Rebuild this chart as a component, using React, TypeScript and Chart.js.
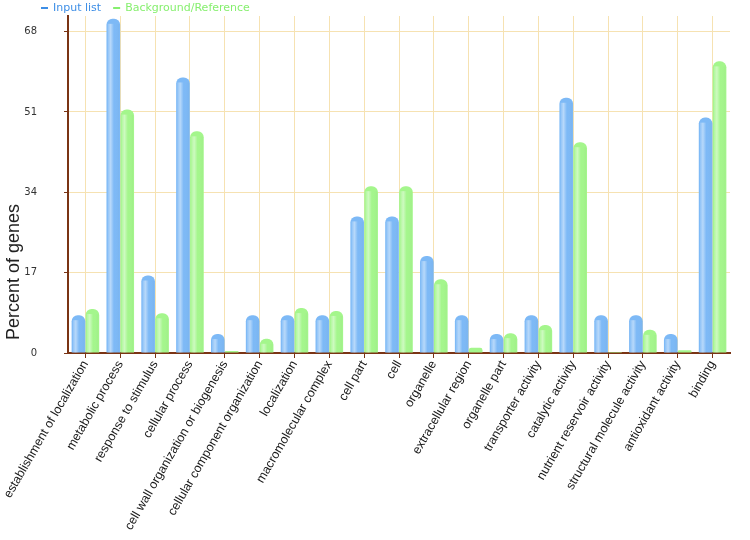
import React, { useEffect, useRef } from "react";
import { Chart, registerables } from "chart.js";

Chart.register(...registerables);

const categories = [
  "establishment of localization",
  "metabolic process",
  "response to stimulus",
  "cellular process",
  "cell wall organization or biogenesis",
  "cellular component organization",
  "localization",
  "macromolecular complex",
  "cell part",
  "cell",
  "organelle",
  "extracellular region",
  "organelle part",
  "transporter activity",
  "catalytic activity",
  "nutrient reservoir activity",
  "structural molecule activity",
  "antioxidant activity",
  "binding",
];

const inputList = [8.0, 70.7, 16.4, 58.3, 4.0, 8.0, 8.0, 8.0, 28.9, 28.9, 20.5, 8.0, 4.0, 8.0, 54.0, 8.0, 8.0, 4.0, 49.8];
const background = [9.3, 51.5, 8.4, 46.9, 0.4, 3.0, 9.5, 8.9, 35.3, 35.3, 15.6, 1.1, 4.2, 5.9, 44.6, 0.2, 4.9, 0.6, 61.7];

const yTicks = [0, 17, 34, 51, 68];
const yMax = 71.3;
const yTitle = "Percent of genes";

const legendItems = [
  { label: "Input list", color: "#3d8ee6" },
  { label: "Background/Reference", color: "#86ef6e" },
];

const BLUE = "#7db9f6";
const GREEN = "#a4f68c";
const AXIS = "#7a3414";
const GRID = "#f6e2b2";

const legendPlugin = {
  id: "topLegend",
  afterDraw(chart: any) {
    const ctx = chart.ctx;
    ctx.save();
    ctx.font = "11px 'DejaVu Sans'";
    ctx.textBaseline = "middle";
    let x = 41;
    const y = 8;
    for (const item of legendItems) {
      ctx.fillStyle = item.color;
      ctx.fillRect(x, y - 1, 7, 2);
      x += 12;
      ctx.fillText(item.label, x, y);
      x += ctx.measureText(item.label).width + 12;
    }
    // y axis title
    ctx.translate(14, 272);
    ctx.rotate(-Math.PI / 2);
    ctx.font = "18px 'Liberation Sans', Arial";
    ctx.fillStyle = "#222";
    ctx.textAlign = "center";
    ctx.fillText(yTitle, 0, 0);
    ctx.restore();
  },
};

const shinePlugin = {
  id: "barShine",
  afterDatasetsDraw(chart: any) {
    const ctx = chart.ctx;
    ctx.save();
    chart.data.datasets.forEach((_: any, di: number) => {
      const meta = chart.getDatasetMeta(di);
      meta.data.forEach((bar: any) => {
        const { x, y, base, width } = bar.getProps(["x", "y", "base", "width"], true);
        const left = x - width / 2;
        const g = ctx.createLinearGradient(left, 0, left + width, 0);
        g.addColorStop(0, "rgba(255,255,255,0.0)");
        g.addColorStop(0.3, "rgba(255,255,255,0.45)");
        g.addColorStop(0.55, "rgba(255,255,255,0.0)");
        g.addColorStop(1, "rgba(0,0,0,0.04)");
        ctx.fillStyle = g;
        const top = Math.min(y + 5, base);
        ctx.fillRect(left + 1, top, width - 2, base - top);
      });
    });
    ctx.restore();
  },
};

export default function App() {
  const ref = useRef<HTMLCanvasElement | null>(null);

  useEffect(() => {
    if (!ref.current) return;
    const chart = new Chart(ref.current, {
      type: "bar",
      data: {
        labels: categories,
        datasets: [
          {
            label: "Input list",
            data: inputList,
            backgroundColor: BLUE,
            borderRadius: { topLeft: 6, topRight: 6, bottomLeft: 0, bottomRight: 0 },
            borderSkipped: "bottom",
            categoryPercentage: 0.8,
            barPercentage: 0.98,
          },
          {
            label: "Background/Reference",
            data: background,
            backgroundColor: GREEN,
            borderRadius: { topLeft: 6, topRight: 6, bottomLeft: 0, bottomRight: 0 },
            borderSkipped: "bottom",
            categoryPercentage: 0.8,
            barPercentage: 0.98,
          },
        ],
      },
      options: {
        responsive: false,
        animation: false,
        layout: { padding: { top: 16, right: 20, left: 0, bottom: 0 } },
        plugins: {
          legend: { display: false },
          tooltip: { enabled: false },
        },
        scales: {
          x: {
            grid: {
              offset: false,
              color: GRID,
              tickColor: AXIS,
              tickLength: 5,
            },
            border: { color: AXIS, width: 2 },
            ticks: {
              minRotation: 60,
              maxRotation: 60,
              autoSkip: false,
              color: "#1a1a1a",
              font: { family: "'Liberation Sans', Arial", size: 12.5 },
              padding: 0,
            },
            afterFit(scale: any) {
              scale.height = 187;
            },
          },
          y: {
            min: 0,
            max: yMax,
            afterBuildTicks(axis: any) {
              axis.ticks = yTicks.map((v) => ({ value: v }));
            },
            grid: {
              color: GRID,
              tickColor: AXIS,
              tickLength: 4,
            },
            border: { color: AXIS, width: 2 },
            ticks: {
              color: "#333",
              font: { family: "'DejaVu Sans'", size: 10 },
              padding: 27,
            },
            afterFit(scale: any) {
              scale.width = 68;
              scale.paddingTop = 0;
              scale.paddingBottom = 0;
            },
          },
        },
      } as any,
      plugins: [shinePlugin, legendPlugin],
    });
    return () => chart.destroy();
  }, []);

  return (
    <div style={{ position: "absolute", left: 0, top: 0, width: 750, height: 540, background: "#fff" }}>
      <canvas ref={ref} width={750} height={540} style={{ display: "block" }} />
    </div>
  );
}
